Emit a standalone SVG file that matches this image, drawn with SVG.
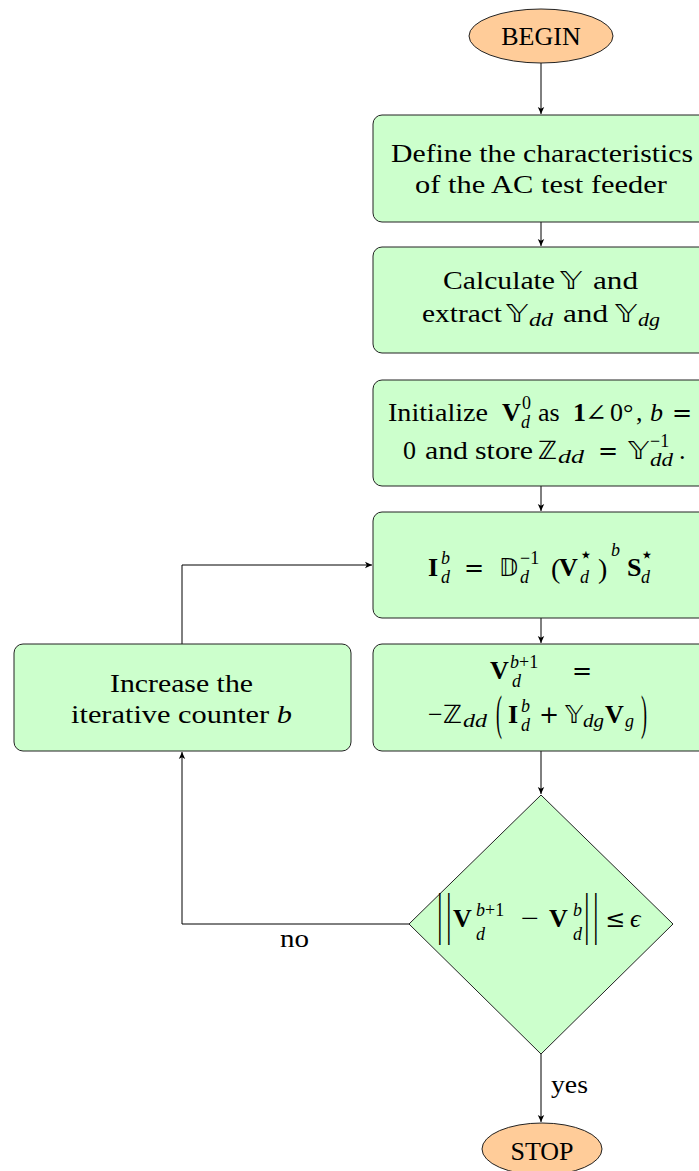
<svg xmlns="http://www.w3.org/2000/svg" width="699" height="1171" viewBox="0 0 699 1171">
<style>
.box{fill:#ccffcc;stroke:#222;stroke-width:1}
.term{fill:#ffcc99;stroke:#222;stroke-width:1}
.t{font-family:"Liberation Serif","DejaVu Serif",serif;font-size:26px;fill:#000}
.c{text-anchor:middle}
.tt{font-family:"Liberation Serif",serif;font-size:26px;fill:#000;text-anchor:middle}
.b{font-weight:bold}
.i{font-style:italic}
.s{font-size:18px}
.st{font-family:"DejaVu Sans",sans-serif;font-size:22px}
.op{font-family:"DejaVu Serif",serif;font-size:24px}
.ds{font-family:"DejaVu Sans",sans-serif;font-size:25px}
.con{fill:none;stroke:#000;stroke-width:1}
</style>
<defs>
<marker id="arr" markerWidth="8" markerHeight="8" refX="7" refY="4" orient="auto" markerUnits="userSpaceOnUse">
<path d="M0,0.8 L7,4 L0,7.2 L1.8,4 Z" fill="#000"/>
</marker>
</defs>
<g id="connectors">
<path class="con" d="M541,63 V114" marker-end="url(#arr)"/>
<path class="con" d="M541,222 V246" marker-end="url(#arr)"/>
<path class="con" d="M541,486 V511" marker-end="url(#arr)"/>
<path class="con" d="M541,618 V643" marker-end="url(#arr)"/>
<path class="con" d="M541,751 V794" marker-end="url(#arr)"/>
<path class="con" d="M541,1054 V1122" marker-end="url(#arr)"/>
<path class="con" d="M409,924 H182 V752" marker-end="url(#arr)"/>
<path class="con" d="M182,644 V565 H372" marker-end="url(#arr)"/>
<text class="t" x="280" y="947" textLength="29" lengthAdjust="spacingAndGlyphs">no</text>
<text class="t" x="551" y="1093" textLength="37" lengthAdjust="spacingAndGlyphs">yes</text>
</g>
<g id="begin">
<ellipse class="term" cx="541" cy="36" rx="72" ry="27"/>
<text class="tt" x="541" y="45">BEGIN</text>
</g>
<g id="define">
<rect class="box" x="373" y="115" width="336" height="107" rx="9"/>
<text class="t c" x="542" y="162" textLength="302" lengthAdjust="spacingAndGlyphs">Define the characteristics</text>
<text class="t c" x="541" y="193" textLength="252" lengthAdjust="spacingAndGlyphs">of the AC test feeder</text>
</g>
<g id="calc">
<rect class="box" x="373" y="247" width="336" height="106" rx="9"/>
<text class="t" y="289"><tspan x="443" textLength="112" lengthAdjust="spacingAndGlyphs">Calculate</tspan><tspan class="ds" x="560" textLength="22" lengthAdjust="spacingAndGlyphs">𝕐</tspan><tspan x="593" textLength="45" lengthAdjust="spacingAndGlyphs">and</tspan></text>
<text class="t" y="322"><tspan x="422" textLength="80" lengthAdjust="spacingAndGlyphs">extract</tspan><tspan class="ds" x="506" textLength="22" lengthAdjust="spacingAndGlyphs">𝕐</tspan><tspan class="s i" x="529" y="326" textLength="24" lengthAdjust="spacingAndGlyphs">dd</tspan><tspan x="563" y="322" textLength="45" lengthAdjust="spacingAndGlyphs">and</tspan><tspan class="ds" x="615" textLength="22" lengthAdjust="spacingAndGlyphs">𝕐</tspan><tspan class="s i" x="638" y="326" textLength="22" lengthAdjust="spacingAndGlyphs">dg</tspan></text>
</g>
<g id="init">
<rect class="box" x="373" y="380" width="336" height="106" rx="9"/>
<text class="t" y="421"><tspan x="388" textLength="100" lengthAdjust="spacingAndGlyphs">Initialize</tspan><tspan class="b" x="502">V</tspan><tspan class="s" x="522" y="409">0</tspan><tspan class="s i" x="521" y="428">d</tspan><tspan x="538" y="421">as</tspan><tspan class="b" x="573">1</tspan><tspan class="op" x="585" textLength="22" lengthAdjust="spacingAndGlyphs">∠</tspan><tspan x="610">0</tspan><tspan x="623">°</tspan><tspan x="636">,</tspan><tspan class="i" x="650">b</tspan><tspan class="op" x="672">=</tspan></text>
<text class="t" y="459"><tspan x="403">0</tspan><tspan x="425" textLength="43" lengthAdjust="spacingAndGlyphs">and</tspan><tspan x="475" textLength="58" lengthAdjust="spacingAndGlyphs">store</tspan><tspan class="ds" x="538" textLength="19" lengthAdjust="spacingAndGlyphs">ℤ</tspan><tspan class="s i" x="558" y="463" textLength="26" lengthAdjust="spacingAndGlyphs">dd</tspan><tspan class="op" x="598" y="459">=</tspan><tspan class="ds" x="628" textLength="21" lengthAdjust="spacingAndGlyphs">𝕐</tspan><tspan class="s" x="650" y="447">−1</tspan><tspan class="s i" x="650" y="466" textLength="23" lengthAdjust="spacingAndGlyphs">dd</tspan><tspan x="679" y="459">.</tspan></text>
</g>
<g id="current">
<rect class="box" x="373" y="512" width="336" height="106" rx="9"/>
<text class="t" y="576"><tspan class="b" x="428">I</tspan><tspan class="s i" x="441" y="564">b</tspan><tspan class="s i" x="441" y="583">d</tspan><tspan class="op" x="464" y="576">=</tspan><tspan class="ds" x="499" textLength="19" lengthAdjust="spacingAndGlyphs">𝔻</tspan><tspan class="s" x="520" y="564">−1</tspan><tspan class="s i" x="520" y="583">d</tspan><tspan x="551" y="578" style="font-size:28px">(</tspan><tspan class="b" x="559" y="576">V</tspan><tspan class="st" x="579" y="562">⋆</tspan><tspan class="s i" x="580" y="583">d</tspan><tspan x="598" y="578" style="font-size:28px">)</tspan><tspan class="s i" x="611" y="556">b</tspan><tspan class="b" x="627" y="576">S</tspan><tspan class="st" x="640" y="562">⋆</tspan><tspan class="s i" x="641" y="583">d</tspan></text>
</g>
<g id="voltage">
<rect class="box" x="373" y="644" width="336" height="107" rx="9"/>
<text class="t" y="679"><tspan class="b" x="490">V</tspan><tspan class="s i" x="510" y="668">b</tspan><tspan class="s">+1</tspan><tspan class="s i" x="512" y="687">d</tspan><tspan class="op" x="572" y="679">=</tspan></text>
<text class="t" y="723"><tspan x="428">−</tspan><tspan class="ds" x="443" textLength="19" lengthAdjust="spacingAndGlyphs">ℤ</tspan><tspan class="s i" x="463" y="727" textLength="24" lengthAdjust="spacingAndGlyphs">dd</tspan><tspan class="b" x="508" y="723">I</tspan><tspan class="s i" x="521" y="712">b</tspan><tspan class="s i" x="521" y="731">d</tspan><tspan class="op" x="539" y="723">+</tspan><tspan class="ds" x="565" textLength="18" lengthAdjust="spacingAndGlyphs">𝕐</tspan><tspan class="s i" x="583" y="727" textLength="21" lengthAdjust="spacingAndGlyphs">dg</tspan><tspan class="b" x="605" y="723">V</tspan><tspan class="s i" x="625" y="727">g</tspan></text>
<text class="t" transform="translate(496,729) scale(0.6,1.6)" style="font-size:30px">(</text>
<text class="t" transform="translate(641,729) scale(0.6,1.6)" style="font-size:30px">)</text>
</g>
<g id="increase">
<rect class="box" x="14" y="644" width="337" height="107" rx="9"/>
<text class="t" x="110" y="692" textLength="143" lengthAdjust="spacingAndGlyphs">Increase the</text>
<text class="t" x="71" y="723" textLength="221" lengthAdjust="spacingAndGlyphs">iterative counter <tspan class="i">b</tspan></text>
</g>
<g id="check">
<polygon class="box" points="541,795 673,924 541,1054 409,924"/>
<text class="t" y="927"><tspan class="b" x="453">V</tspan><tspan class="s i" x="476" y="916">b</tspan><tspan class="s">+1</tspan><tspan class="s i" x="476" y="940">d</tspan><tspan x="521" y="927" textLength="18" lengthAdjust="spacingAndGlyphs">−</tspan><tspan class="b" x="549">V</tspan><tspan class="s i" x="573" y="916">b</tspan><tspan class="s i" x="573" y="940">d</tspan><tspan class="op" x="605" y="927">≤</tspan><tspan class="i" x="630">ϵ</tspan></text>
<text class="t" transform="translate(437,933) scale(1,2)" style="font-size:28px">|</text>
<text class="t" transform="translate(446,933) scale(1,2)" style="font-size:28px">|</text>
<text class="t" transform="translate(584,933) scale(1,2)" style="font-size:28px">|</text>
<text class="t" transform="translate(593,933) scale(1,2)" style="font-size:28px">|</text>
</g>
<g id="stop">
<ellipse class="term" cx="542" cy="1149" rx="60" ry="26"/>
<text class="tt" x="542" y="1160">STOP</text>
</g>
</svg>
